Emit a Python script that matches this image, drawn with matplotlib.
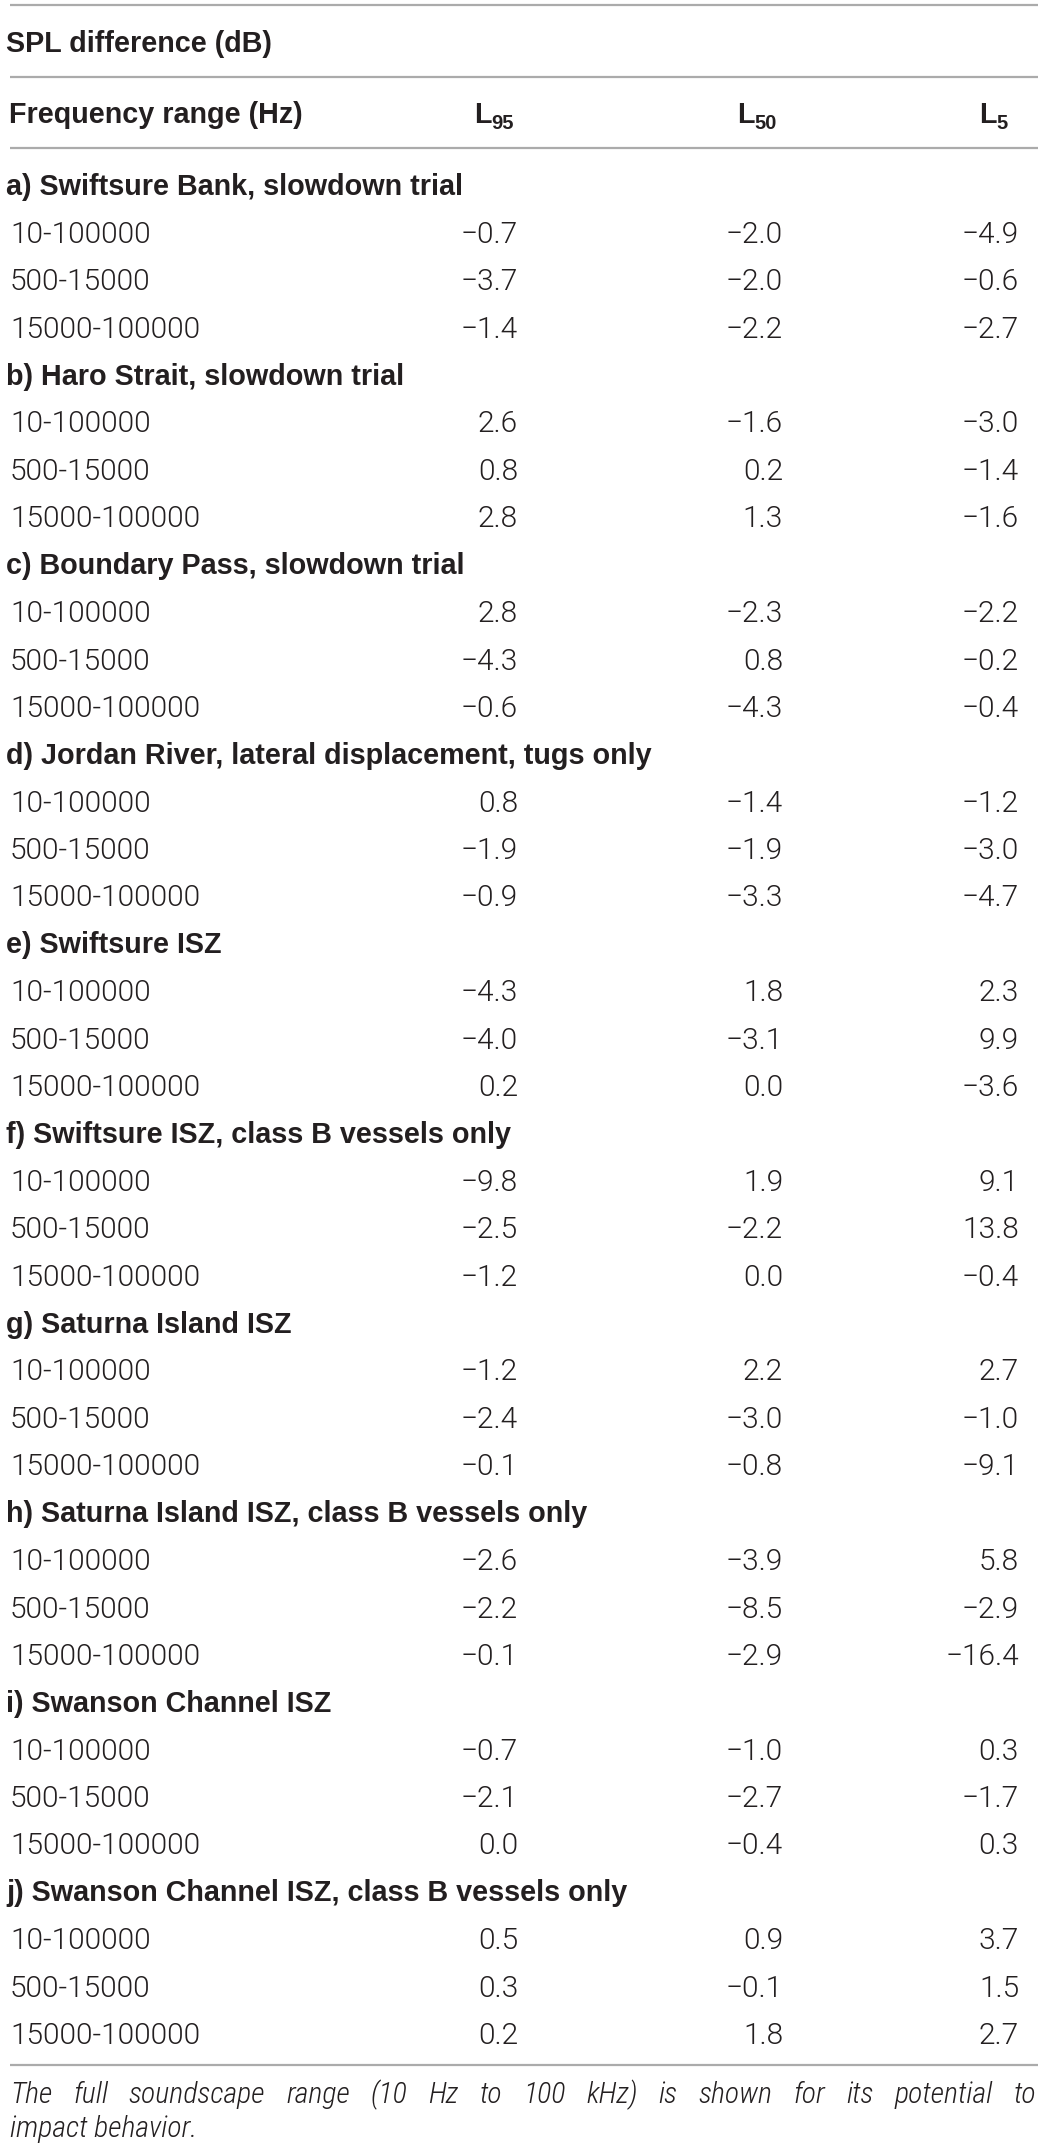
"""SPL difference table, drawn as text on a blank axes."""

import matplotlib
matplotlib.use("Agg")
import matplotlib.pyplot as plt
import matplotlib.font_manager as fm

W, H = 1044, 2151

col_subs = ["95", "50", "5"]
freq_ranges = ["10-100000", "500-15000", "15000-100000"]

sections = [
    "a) Swiftsure Bank, slowdown trial",
    "b) Haro Strait, slowdown trial",
    "c) Boundary Pass, slowdown trial",
    "d) Jordan River, lateral displacement, tugs only",
    "e) Swiftsure ISZ",
    "f) Swiftsure ISZ, class B vessels only",
    "g) Saturna Island ISZ",
    "h) Saturna Island ISZ, class B vessels only",
    "i) Swanson Channel ISZ",
    "j) Swanson Channel ISZ, class B vessels only",
]

l95 = [
    [-0.7, -3.7, -1.4],
    [2.6, 0.8, 2.8],
    [2.8, -4.3, -0.6],
    [0.8, -1.9, -0.9],
    [-4.3, -4.0, 0.2],
    [-9.8, -2.5, -1.2],
    [-1.2, -2.4, -0.1],
    [-2.6, -2.2, -0.1],
    [-0.7, -2.1, 0.0],
    [0.5, 0.3, 0.2],
]
l50 = [
    [-2.0, -2.0, -2.2],
    [-1.6, 0.2, 1.3],
    [-2.3, 0.8, -4.3],
    [-1.4, -1.9, -3.3],
    [1.8, -3.1, 0.0],
    [1.9, -2.2, 0.0],
    [2.2, -3.0, -0.8],
    [-3.9, -8.5, -2.9],
    [-1.0, -2.7, -0.4],
    [0.9, -0.1, 1.8],
]
l5 = [
    [-4.9, -0.6, -2.7],
    [-3.0, -1.4, -1.6],
    [-2.2, -0.2, -0.4],
    [-1.2, -3.0, -4.7],
    [2.3, 9.9, -3.6],
    [9.1, 13.8, -0.4],
    [2.7, -1.0, -9.1],
    [5.8, -2.9, -16.4],
    [0.3, -1.7, 0.3],
    [3.7, 1.5, 2.7],
]

title = "SPL difference (dB)"
first_col = "Frequency range (Hz)"
footnote = ("The full soundscape range (10 Hz to 100 kHz) is shown for its potential to",
            "impact behavior.")


def find_font(names, style="normal", weights=(300, "light")):
    for name in names:
        for f in fm.fontManager.ttflist:
            if f.name == name and f.style == style and f.weight in weights:
                return fm.FontProperties(fname=f.fname)
    return None


TXT = "#231f20"
RULE = "#ababab"
reg = find_font(["Roboto", "Lato", "Open Sans", "Inter"]) or \
    fm.FontProperties(family="Liberation Sans")
ita_c = find_font(["Roboto Condensed"], "italic")
if ita_c is not None:
    ita, ita_size = ita_c, 21.5
else:
    ita = find_font(["Roboto", "Lato", "Open Sans"], "italic") or \
        fm.FontProperties(family="Liberation Sans", style="italic")
    ita_size = 19.8
bold = fm.FontProperties(family="Liberation Sans", weight="bold")

BS = 20.7   # bold size
RS = 21.5   # regular size

fig = plt.figure(figsize=(W / 100, H / 100), dpi=100)
ax = fig.add_axes([0, 0, 1, 1])
ax.set_xlim(0, W)
ax.set_ylim(H, 0)
ax.axis("off")

x_left = 10
x_right = 1038
num_x = [518, 783, 1019]
head_x = [514, 777, 1008]


def rule(y):
    ax.plot([x_left, x_right], [y, y], color=RULE, lw=1.6, solid_capstyle="butt")


rule(5)
ax.text(6, 52, title, fontproperties=bold, fontsize=BS, color=TXT, va="baseline")
rule(77)
ax.text(9, 123, first_col, fontproperties=bold, fontsize=BS, color=TXT, va="baseline")
hdr, subs = [], []
for x, sub in zip(head_x, col_subs):
    hdr.append(ax.text(x, 123, "L", fontproperties=bold, fontsize=BS, color=TXT,
                       va="baseline", ha="right"))
    subs.append(ax.text(x, 129, sub, fontproperties=bold, fontsize=14.5, color=TXT,
                        va="baseline", ha="left"))
rule(148)

fig.canvas.draw()
renderer = fig.canvas.get_renderer()
# move header L's so that L + subscript ends at head_x
for tl, ts, x in zip(hdr, subs, head_x):
    sw = ts.get_window_extent(renderer=renderer).width
    tl.set_x(x - sw)
    ts.set_x(x - sw)

row_h = 47.4
y0 = 185
k = 0
for s, name in enumerate(sections):
    ax.text(6, y0 + k * row_h + 10, name, fontproperties=bold, fontsize=BS,
            color=TXT, va="baseline")
    k += 1
    for r, fr in enumerate(freq_ranges):
        yb = y0 + k * row_h + 10.5
        ax.text(x_left, yb, fr, fontproperties=reg, fontsize=RS, color=TXT,
                va="baseline")
        for x, vals in zip(num_x, (l95, l50, l5)):
            lab = f"{vals[s][r]:.1f}".replace("-", "\u2212")
            ax.text(x, yb, lab, fontproperties=reg, fontsize=RS, color=TXT,
                    va="baseline", ha="right")
        k += 1

rule(2065)

# justified first footnote line: place each word
words = footnote[0].split(" ")
widths = []
for w in words:
    t = ax.text(0, 0, w, fontproperties=ita, fontsize=ita_size)
    widths.append(t.get_window_extent(renderer=renderer).width)
    t.remove()
gap = (x_right - 2 - x_left - sum(widths)) / (len(words) - 1)
x = x_left
for w, wd in zip(words, widths):
    ax.text(x, 2103, w, fontproperties=ita, fontsize=ita_size, color=TXT, va="baseline")
    x += wd + gap
ax.text(x_left, 2137, footnote[1], fontproperties=ita, fontsize=ita_size, color=TXT,
        va="baseline")

fig.savefig("out.png", dpi=100, facecolor="white")
